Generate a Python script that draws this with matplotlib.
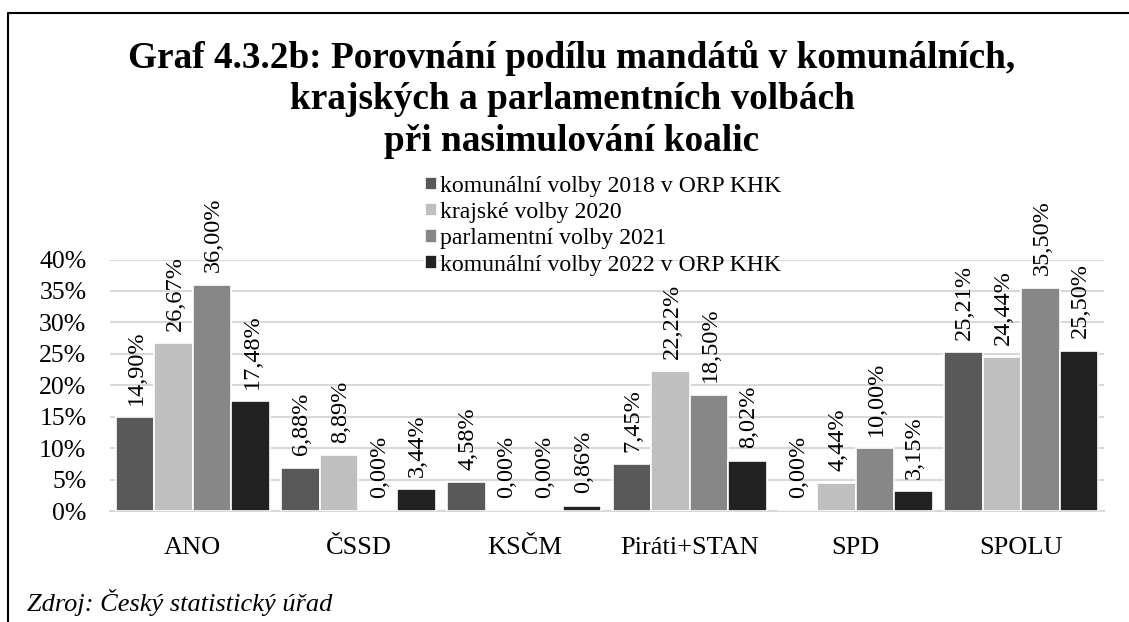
import numpy as np
import matplotlib
matplotlib.use('Agg')
import matplotlib.pyplot as plt
from matplotlib.lines import Line2D

plt.rcParams['font.family'] = ['Liberation Serif', 'DejaVu Serif']

# Data
categories = ['ANO', 'ČSSD', 'KSČM', 'Piráti+STAN', 'SPD', 'SPOLU']
series_names = ['komunální volby 2018 v ORP KHK', 'krajské volby 2020',
                'parlamentní volby 2021', 'komunální volby 2022 v ORP KHK']
kom_2018 = [14.90, 6.88, 4.58, 7.45, 0.00, 25.21]
kraj_2020 = [26.67, 8.89, 0.00, 22.22, 4.44, 24.44]
parl_2021 = [36.00, 0.00, 0.00, 18.50, 10.00, 35.50]
kom_2022 = [17.48, 3.44, 0.86, 8.02, 3.15, 25.50]
colors = ['#595959', '#bfbfbf', '#878787', '#222222']

W, H = 1129, 622
fig = plt.figure(figsize=(W / 100, H / 100), dpi=100)
ax = fig.add_axes([110 / W, (H - 511) / H, (1104 - 110) / W, (511 - 259.5) / H])

x = np.arange(len(categories))
bw = 0.233
all_series = [kom_2018, kraj_2020, parl_2021, kom_2022]
handles = []
for i, (vals, name, c) in enumerate(zip(all_series, series_names, colors)):
    pos = x + (i - 1.5) * bw
    vals = np.array(vals) / 100
    b = ax.bar(pos, vals, width=bw, color=c, edgecolor='white', linewidth=1.2,
               label=name, zorder=3)
    handles.append(b)
    for px, v in zip(pos, vals):
        ax.annotate(f"{v * 100:.2f}".replace('.', ',') + '%', (px, v),
                    xytext=(1, 9), textcoords='offset points',
                    rotation=90, ha='center', va='bottom', fontsize=17.5,
                    annotation_clip=False)

ax.set_xlim(-0.5, len(categories) - 0.5)
ax.set_ylim(0, 0.4)
ticks = np.arange(0, 0.41, 0.05)
ax.set_yticks(ticks)
ax.set_yticklabels([f"{int(round(t * 100))}%" for t in ticks], fontsize=18.5)
ax.set_xticks(x)
ax.set_xticklabels(categories, fontsize=19)
ax.tick_params(axis='y', length=0, pad=17)
ax.tick_params(axis='x', length=0, pad=19)
ax.grid(axis='y', color='#d9d9d9', linewidth=1.5, zorder=0)
ax.set_axisbelow(True)
for s in ['top', 'right', 'left']:
    ax.spines[s].set_visible(False)
ax.spines['bottom'].set_color('#d9d9d9')
ax.spines['bottom'].set_linewidth(1.5)

# title
fig.text(572 / W, 1 - 40 / H,
         "Graf 4.3.2b: Porovnání podílu mandátů v komunálních,\n"
         "krajských a parlamentních volbách\npři nasimulování koalic",
         ha='center', va='top', fontsize=26.8, fontweight='bold', linespacing=1.24)

leg = fig.legend(handles=handles, labels=series_names, loc='upper left',
                 bbox_to_anchor=(413 / W, 1 - 164 / H), frameon=False,
                 fontsize=17.1, handlelength=0.5, handleheight=0.5,
                 handletextpad=0.15, labelspacing=0.22, borderpad=0)

fig.text(27 / W, 1 - 602 / H, "Zdroj: Český statistický úřad", fontsize=19,
         style='italic', ha='left', va='center')

# frame lines (left and top)
fig.add_artist(Line2D([7.5 / W, 7.5 / W, 1.0], [0, 1 - 13 / H, 1 - 13 / H],
                      transform=fig.transFigure, color='black', linewidth=1.5))

fig.savefig('out.png', dpi=100)
